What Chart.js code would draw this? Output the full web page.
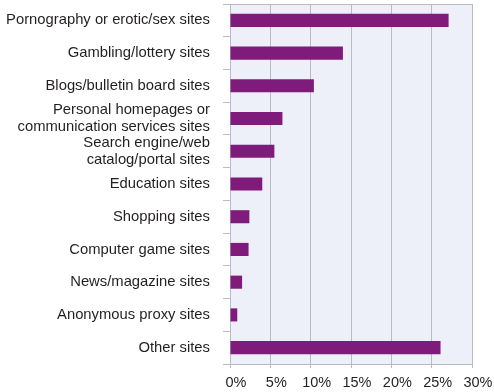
<!DOCTYPE html>
<html>
<head>
<meta charset="utf-8">
<script src="https://cdn.jsdelivr.net/npm/chart.js@4/dist/chart.umd.min.js"></script>
<style>
html,body{margin:0;padding:0;background:#fff;}
#wrap{width:494px;height:392px;position:relative;}
</style>
</head>
<body>
<div id="wrap"><canvas id="c"></canvas></div>
<script>
const categories = [
  "Pornography or erotic/sex sites",
  "Gambling/lottery sites",
  "Blogs/bulletin board sites",
  ["Personal homepages or", "communication services sites"],
  ["Search engine/web", "catalog/portal sites"],
  "Education sites",
  "Shopping sites",
  "Computer game sites",
  "News/magazine sites",
  "Anonymous proxy sites",
  "Other sites"
];
const shares = [27.1, 14.0, 10.4, 6.5, 5.5, 4.0, 2.4, 2.3, 1.5, 0.9, 26.1];
const xTicks = [0, 5, 10, 15, 20, 25, 30];

const FONT = 'Liberation Sans, Arial, Helvetica, sans-serif';

const plotBg = {
  id: 'plotBg',
  beforeDraw(chart) {
    const {ctx, chartArea: a} = chart;
    ctx.save();
    ctx.fillStyle = '#edf0f9';
    ctx.fillRect(a.left, a.top, a.right - a.left, a.bottom - a.top);
    ctx.restore();
  },
  afterDatasetsDraw(chart) {
    const {ctx, chartArea: a} = chart;
    ctx.save();
    ctx.strokeStyle = '#b9bac2';
    ctx.lineWidth = 1;
    ctx.beginPath();
    ctx.moveTo(a.left, Math.round(a.top) + 0.5);
    ctx.lineTo(a.right, Math.round(a.top) + 0.5);
    ctx.stroke();
    ctx.restore();
  }
};

new Chart(document.getElementById('c'), {
  type: 'bar',
  data: {
    labels: categories,
    datasets: [{
      data: shares,
      backgroundColor: '#7f1b7b',
      borderWidth: 0,
      categoryPercentage: 1.0,
      barPercentage: 0.4
    }]
  },
  options: {
    indexAxis: 'y',
    responsive: true,
    maintainAspectRatio: false,
    animation: false,
    layout: { padding: { left: 0, right: 22, top: 4, bottom: 0 } },
    plugins: { legend: { display: false }, tooltip: { enabled: false } },
    scales: {
      x: {
        min: 0, max: 30,
        afterBuildTicks(scale) { scale.ticks = xTicks.map(v => ({value: v})); },
        afterFit(scale) { scale.height = 28; scale.paddingLeft = 0; scale.paddingRight = 0; },
        grid: { color: '#b9bac2', lineWidth: 1, tickLength: 4, drawTicks: true },
        border: { color: '#b9bac2' },
        ticks: {
          color: '#231f20',
          padding: 6,
          labelOffset: 6,
          autoSkip: false,
          font: { family: FONT, size: 14.5 },
          callback: v => v + '%',
          maxRotation: 0
        }
      },
      y: {
        afterFit(scale) { scale.width = 230; scale.paddingTop = 0; scale.paddingBottom = 0; },
        grid: { offset: true, drawOnChartArea: false, color: '#b9bac2', tickLength: 7 },
        border: { color: '#b9bac2' },
        ticks: {
          color: '#231f20',
          padding: 13,
          autoSkip: false,
          font: { family: FONT, size: 14.8, lineHeight: 1.15 }
        }
      }
    }
  },
  plugins: [plotBg]
});
</script>
</body>
</html>
